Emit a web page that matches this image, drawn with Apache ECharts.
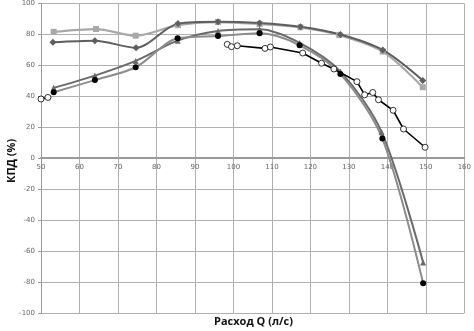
<!DOCTYPE html>
<html>
<head>
<meta charset="utf-8">
<script src="https://cdn.jsdelivr.net/npm/echarts@6/dist/echarts.min.js"></script>
<style>
  html, body { margin: 0; padding: 0; background: #fff; }
  #box { width: 474px; height: 331px; }
</style>
</head>
<body>
<div id="box"></div>
<script>
var chart = echarts.init(document.getElementById('box'));

// расход Q (л/с) и КПД (%) для каждой кривой
var qSquare = [53.3, 64.3, 74.6, 85.6, 96, 106.8, 117.4, 127.5, 138.8, 149.2];
var effSquare = [81.7, 83.5, 79.2, 86, 88, 86.7, 84.6, 79.6, 68.9, 45.9];

var qDiamond = [53.1, 64, 74.7, 85.6, 96, 106.8, 117.4, 127.8, 138.8, 149.2];
var effDiamond = [74.9, 75.9, 71.4, 87, 88.2, 87.4, 85, 80, 70, 50.3];

var qTriangle = [53.3, 64, 74.6, 85.5, 96, 106.8, 117.2, 127.8, 138.5, 149.3];
var effTriangle = [45.5, 53.4, 62.9, 76, 82.2, 83.3, 74.5, 56, 17, -67.3];

var qDot = [53.3, 64, 74.6, 85.5, 96, 106.8, 117.2, 127.8, 138.7, 149.3];
var effDot = [42.7, 50.5, 58.8, 77.5, 79, 80.7, 73, 54.5, 12.7, -80.8];

var qOpen = [50, 51.8, null, 98.4, 99.5, 101, 108.2, 109.6, 118, 122.9, 126.1, 132.1, 134.1, 136.2, 137.7, 141.5, 144.2, 149.8];
var effOpen = [38.3, 39.3, null, 73.6, 72.1, 72.7, 71, 71.9, 68, 61.4, 57.7, 49.5, 41, 42.5, 37.8, 31, 18.9, 7.1];

function pairs(xs, ys) {
  return xs.map(function(x, i) {
    return x === null ? [null, null] : [x, ys[i]];
  });
}

var labelFont = { fontSize: 7, color: '#666', fontFamily: 'DejaVu Sans' };

var option = {
  animation: false,
  grid: { left: 41, right: 6, top: 3, bottom: 18 },
  xAxis: {
    type: 'value',
    min: 50,
    max: 160,
    interval: 10,
    // ось X проходит через КПД = 0
    offset: -155,
    axisLine: { onZero: false, lineStyle: { color: '#9a9a9a', width: 2 } },
    axisTick: { show: false },
    axisLabel: Object.assign({ margin: 6 }, labelFont),
    splitLine: { lineStyle: { color: '#b0b0b0', width: 1 } }
  },
  yAxis: {
    type: 'value',
    min: -100,
    max: 100,
    interval: 20,
    axisLine: { show: true, lineStyle: { color: '#9a9a9a', width: 1 } },
    axisTick: { show: true, length: 3, lineStyle: { color: '#9a9a9a' } },
    axisLabel: Object.assign({ margin: 6 }, labelFont),
    splitLine: { lineStyle: { color: '#b0b0b0', width: 1 } }
  },
  graphic: [
    {
      type: 'text',
      left: 214,
      top: 316,
      style: { text: 'Расход Q (л/с)', font: 'bold 11px "Open Sans"', fill: '#111' }
    },
    {
      type: 'text',
      x: 6,
      y: 183,
      rotation: Math.PI / 2,
      style: { text: 'КПД (%)', font: 'bold 11px "Open Sans"', fill: '#111' }
    }
  ],
  series: [
    {
      name: 'square',
      type: 'line',
      smooth: 0.3,
      data: pairs(qSquare, effSquare),
      symbol: 'rect',
      symbolSize: 6,
      lineStyle: { color: '#a8a8a8', width: 2.2 },
      itemStyle: { color: '#a8a8a8' }
    },
    {
      name: 'diamond',
      type: 'line',
      smooth: 0.3,
      data: pairs(qDiamond, effDiamond),
      symbol: 'diamond',
      symbolSize: 7,
      lineStyle: { color: '#5e5e5e', width: 2 },
      itemStyle: { color: '#5e5e5e' }
    },
    {
      name: 'triangle',
      type: 'line',
      smooth: 0.3,
      data: pairs(qTriangle, effTriangle),
      symbol: 'triangle',
      symbolSize: 6,
      lineStyle: { color: '#6a6a6a', width: 2 },
      itemStyle: { color: '#6a6a6a' }
    },
    {
      name: 'dot',
      type: 'line',
      smooth: 0.3,
      data: pairs(qDot, effDot),
      symbol: 'circle',
      symbolSize: 6,
      lineStyle: { color: '#8c8c8c', width: 2 },
      itemStyle: { color: '#000' }
    },
    {
      name: 'open',
      type: 'line',
      connectNulls: false,
      data: pairs(qOpen, effOpen),
      symbol: 'circle',
      symbolSize: 6,
      lineStyle: { color: '#000', width: 1.6 },
      itemStyle: { color: '#fff', borderColor: '#000', borderWidth: 0.8 }
    }
  ]
};

chart.setOption(option);
</script>
</body>
</html>
